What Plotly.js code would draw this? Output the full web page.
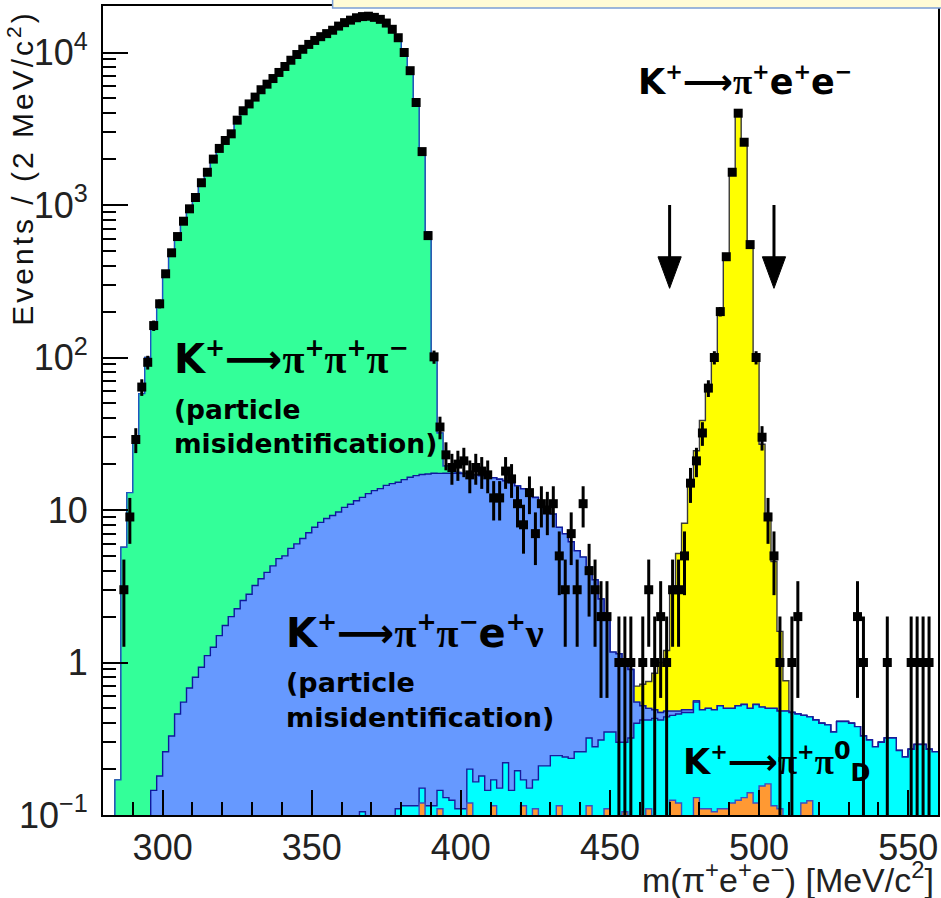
<!DOCTYPE html>
<html><head><meta charset="utf-8">
<script src="https://cdn.plot.ly/plotly-3.0.1.min.js"></script>
<style>html,body{margin:0;padding:0;background:#fff}</style>
</head><body><div id="chart" style="width:941px;height:898px"></div>
<script>
// ---- histogram binning: 2 MeV/c^2 bins from 280 to 560 ----
const binLow = 280, binWidth = 2, nBins = 140;

// ---- observed data (events per bin), bins centred 281, 283, ... 559 ----
const dataCounts = [
  0,0,0,3,9,29,64,93,162,225,
  354,486,621,783,944,1120,1400,1640,2000,2350,
  2650,2930,3600,4150,4600,5100,5700,6200,6750,7400,
  8100,8900,9700,10500,11300,12000,12700,13300,14000,14900,
  15700,16300,16900,17200,17300,17000,16500,15600,14200,12500,
  10000,7600,4700,2240,630,101,35,23,19,20,
  21,17,19,18,17,12,12,18,16,11,
  8,13,7,11,10,11,5,3,7,3,
  11,4,3,2,2,0,1,1,1,0,
  1,3,1,2,1,3,3,5,15,21,
  32,63,100,200,458,1640,4000,2580,550,100,
  30,9,5,1,0,1,2,0,0,0,
  0,0,0,0,0,0,2,1,0,0,
  0,1,0,0,0,1,1,1,1,0
];

// ---- simulated components (stacked) ----
const mcOrange = [
  0,0,0,0,0,0,0,0,0,0,
  0,0,0,0,0,0,0,0,0,0,
  0,0,0,0,0,0,0,0,0,0,
  0,0,0,0,0,0,0,0,0,0,
  0,0,0,0,0,0,0,0,0,0,
  0,0,0,0.12,0,0,0.11,0,0,0,
  0,0.12,0,0,0,0.115,0,0,0,0,
  0.115,0,0.11,0,0,0,0.115,0,0,0,
  0,0.115,0,0,0.11,0,0,0.105,0,0,
  0,0.11,0,0,0,0.125,0.12,0,0,0.13,
  0.11,0.11,0.105,0.11,0.11,0.12,0.125,0.13,0.14,0.12,
  0.155,0.16,0.115,0.11,0,0,0,0.12,0.124,0,
  0,0,0,0,0,0,0,0,0,0,
  0,0,0,0,0,0,0,0,0,0
];
const mcCyan = [
  0,0,0,0,0,0,0,0,0,0,
  0,0,0,0,0,0,0,0,0,0,
  0,0,0,0,0,0,0,0,0,0,
  0,0,0,0,0,0,0,0,0,0,
  0,0,0,0.105,0,0,0,0,0,0.11,
  0.115,0.115,0.115,0.03,0.115,0.115,0.035,0.13,0.125,0.11,
  0.11,0.08,0.165,0.18,0.145,0.055,0.15,0.22,0.145,0.195,
  0.055,0.15,0.06,0.21,0.21,0.245,0.13,0.24,0.235,0.26,
  0.26,0.205,0.28,0.31,0.24,0.35,0.3,0.195,0.32,0.4,
  0.42,0.31,0.43,0.42,0.44,0.325,0.34,0.47,0.47,0.42,
  0.38,0.39,0.385,0.41,0.39,0.38,0.395,0.4,0.36,0.41,
  0.355,0.34,0.385,0.37,0.48,0.47,0.46,0.33,0.316,0.42,
  0.4,0.39,0.35,0.41,0.41,0.4,0.38,0.33,0.31,0.28,
  0.3,0.32,0.32,0.265,0.24,0.27,0.29,0.29,0.27,0.26
];
const mcBlue = [
  0,0,0,0,0,0,0,0,0.145,0.18,
  0.26,0.33,0.46,0.55,0.68,0.80,0.93,1.11,1.26,1.5,
  1.75,2.0,2.25,2.55,2.8,3.2,3.54,3.9,4.3,4.8,
  5.0,5.6,6.0,6.5,7.1,7.7,8.3,8.8,9.2,9.7,
  10.4,10.9,11.5,12.0,12.8,13.4,13.8,14.5,14.9,15.1,
  15.7,16.3,16.7,16.95,17.1,17.3,17.25,17.3,17.3,17.3,
  17.2,17.0,16.8,16.6,16.45,16.1,15.75,15.3,14.95,14.2,
  13.6,12.85,11.9,11.0,10.1,9.15,7.45,6.75,5.95,5.15,
  4.65,3.9,3.2,2.3,1.55,0.82,0.84,0.7,0.58,0.15,
  0.1,0.08,0.06,0.05,0.04,0.03,0.02,0.02,0.02,0.01,
  0,0,0,0,0,0,0,0,0,0,
  0,0,0,0,0,0,0,0,0,0,
  0,0,0,0,0,0,0,0,0,0,
  0,0,0,0,0,0,0,0,0,0
];
const mcGreen = [
  0,0,0.17,5.7,13,30,58,100,160,235,
  350,480,620,790,950,1130,1400,1650,2000,2350,
  2650,3000,3550,4100,4600,5100,5650,6200,6750,7350,
  8050,8850,9650,10450,11250,12000,12700,13400,14100,14900,
  15600,16300,16800,17100,17200,17000,16500,15600,14200,12400,
  10100,7500,4800,2300,650,88,14.6,2,0.5,0.2,
  0.1,0,0,0,0,0,0,0,0,0,
  0,0,0,0,0,0,0,0,0,0,
  0,0,0,0,0,0,0,0,0,0,
  0,0,0,0,0,0,0,0,0,0,
  0,0,0,0,0,0,0,0,0,0,
  0,0,0,0,0,0,0,0,0,0,
  0,0,0,0,0,0,0,0,0,0,
  0,0,0,0,0,0,0,0,0,0
];
const mcYellow = [
  0,0,0,0,0,0,0,0,0,0,
  0,0,0,0,0,0,0,0,0,0,
  0,0,0,0,0,0,0,0,0,0,
  0,0,0,0,0,0,0,0,0,0,
  0,0,0,0,0,0,0,0,0,0,
  0,0,0,0,0,0,0,0,0,0,
  0,0,0,0,0,0,0,0,0,0,
  0,0,0,0,0,0,0,0,0,0,
  0,0,0,0,0,0,0,0,0,0.15,
  0.2,0.25,0.36,0.53,0.72,2.5,4.7,7.7,14.4,23.9,
  38.1,64.5,104.5,202.5,454.5,1640,3960,2720,542,99.5,
  26.5,9,4.1,1.12,0.28,0,0,0,0,0,
  0,0,0,0,0,0,0,0,0,0,
  0,0,0,0,0,0,0,0,0,0
];

// signal-region cut values (arrows)
const cutValues = [470, 505];

// axis ticks
const xTickVals = [300, 350, 400, 450, 500, 550];
const xTickText = ['300', '350', '400', '450', '500', '550'];
const xMinorVals = [290,310,320,330,340,360,370,380,390,410,420,430,440,460,470,480,490,510,520,530,540];
const yTickVals = [0.1, 1, 10, 100, 1000, 10000];
const yTickText = ['10<sup>\u22121</sup>', '1', '10', '10<sup>2</sup>', '10<sup>3</sup>', '10<sup>4</sup>'];
const yMinorVals = [0.2,0.3,0.4,0.5,0.6,0.7,0.8,0.9, 2,3,4,5,6,7,8,9, 20,30,40,50,60,70,80,90,
  200,300,400,500,600,700,800,900, 2000,3000,4000,5000,6000,7000,8000,9000, 20000];

// ---- build traces ----
const edges = Array.from({length: nBins + 1}, (_, i) => binLow + i * binWidth);
const centers = Array.from({length: nBins}, (_, i) => binLow + (i + 0.5) * binWidth);

const components = [mcOrange, mcCyan, mcBlue, mcGreen, mcYellow];
const styles = [
  {fill: '#ff9933', line: '#3a4fc4'},
  {fill: '#00ffff', line: '#1a1a9c'},
  {fill: '#6699ff', line: '#10189c'},
  {fill: '#33ff99', line: '#1c54c8'},
  {fill: '#ffff00', line: '#3a3a3a'}
];
const cumul = [];
let running = new Array(nBins).fill(0);
components.forEach(arr => { running = running.map((v, i) => v + arr[i]); cumul.push(running.slice()); });

const traces = [];
for (let k = components.length - 1; k >= 0; k--) {
  const yv = cumul[k].map(v => (v > 0 ? v : 1e-3));
  yv.push(yv[yv.length - 1]);
  traces.push({
    type: 'scatter', mode: 'lines', x: edges, y: yv,
    line: {shape: 'hv', color: styles[k].line, width: 1.4},
    fill: 'tozeroy', fillcolor: styles[k].fill, hoverinfo: 'skip'
  });
}

const dx = [], dy = [], de = [];
dataCounts.forEach((n, i) => { if (n > 0) { dx.push(centers[i]); dy.push(n); de.push(Math.sqrt(n)); } });
traces.push({
  type: 'scatter', mode: 'markers', x: dx, y: dy,
  marker: {symbol: 'square', size: 9, color: 'black'},
  error_y: {type: 'data', array: de, visible: true, color: 'black', thickness: 3, width: 0},
  error_x: {type: 'constant', value: binWidth / 2, visible: true, color: 'black', thickness: 3, width: 0}
});

// ---- decorations ----
const shapes = [
  {type: 'rect', xref: 'paper', yref: 'paper', x0: 0.275, x1: 1.01, y0: 0.9975, y1: 1.02,
   fillcolor: '#fffbd6', line: {color: '#7b9fd6', width: 1.5}, layer: 'above'}
];
cutValues.forEach(xc => {
  shapes.push({type: 'line', xref: 'x', yref: 'paper', x0: xc, x1: xc, y0: 0.754, y1: 0.685,
    line: {color: 'black', width: 3}, layer: 'above'});
  shapes.push({type: 'path', xref: 'x', yref: 'paper',
    path: 'M ' + (xc - 3.9) + ',0.69 L ' + (xc + 3.9) + ',0.69 L ' + xc + ',0.651 Z',
    fillcolor: 'black', line: {color: 'black', width: 1}, layer: 'above'});
});

const PI = '<span style="font-family:Liberation Serif">\u03c0</span>';
const NU = '<span style="font-family:Liberation Serif">\u03bd</span>';
const ARR = '\u27f6';
function sup(t, px) { return '<sup><span style="font-size:' + px + 'px">' + t + '</span></sup>'; }
function sub(t, px) { return '<sub><span style="font-size:' + px + 'px">' + t + '</span></sub>'; }
const labFont = {family: 'DejaVu Sans', size: 40, color: 'black', weight: 'bold'};
const subFont = {family: 'DejaVu Sans', size: 27, color: 'black', weight: 'bold'};
const S = 24;

const annotations = [
  {xref: 'paper', yref: 'paper', x: 0.083, y: 0.565, xanchor: 'left', yanchor: 'middle', showarrow: false,
   text: 'K' + sup('+', S) + ARR + PI + sup('+', S) + PI + sup('+', S) + PI + sup('\u2212', S), font: labFont},
  {xref: 'paper', yref: 'paper', x: 0.083, y: 0.523, xanchor: 'left', yanchor: 'top', showarrow: false, align: 'left',
   text: '(particle<br>misidentification)', font: Object.assign({}, subFont, {size: 26.5})},
  {xref: 'paper', yref: 'paper', x: 0.638, y: 0.907, xanchor: 'left', yanchor: 'middle', showarrow: false,
   text: 'K' + sup('+', 21) + ARR + PI + sup('+', 21) + 'e' + sup('+', 21) + 'e' + sup('\u2212', 21), font: Object.assign({}, labFont, {size: 35})},
  {xref: 'paper', yref: 'paper', x: 0.217, y: 0.226, xanchor: 'left', yanchor: 'middle', showarrow: false,
   text: 'K' + sup('+', S) + ARR + PI + sup('+', S) + PI + sup('\u2212', S) + 'e' + sup('+', S) + NU, font: labFont},
  {xref: 'paper', yref: 'paper', x: 0.217, y: 0.185, xanchor: 'left', yanchor: 'top', showarrow: false, align: 'left',
   text: '(particle<br>misidentification)', font: subFont},
  {xref: 'paper', yref: 'paper', x: 0.692, y: 0.0655, xanchor: 'left', yanchor: 'middle', showarrow: false,
   text: 'K' + sup('+', 21) + ARR + PI + sup('+', 21) + PI + sup('0', 24) + sub('D', 24),
   font: Object.assign({}, labFont, {size: 35})},
  {xref: 'paper', yref: 'paper', x: -0.0985, y: 0.997, xanchor: 'center', yanchor: 'top', showarrow: false, textangle: -90,
   text: '<span style="letter-spacing:3px">Events / (2 MeV/c<sup>2</sup>)</span>', font: {family: 'Liberation Sans, Arial', size: 30, color: '#111'}},
  {xref: 'paper', yref: 'paper', x: 0.998, y: -0.1065, xanchor: 'right', yanchor: 'bottom', showarrow: false,
   text: 'm(' + '\u03c0<sup>+</sup>e<sup>+</sup>e<sup>\u2212</sup>) [MeV/c<sup>2</sup>]', font: {family: 'Liberation Sans, Arial', size: 34, color: '#222'}}
];

const tickFont = {family: 'Liberation Sans, Arial', size: 36, color: '#222'};
const layout = {
  width: 941, height: 898,
  margin: {l: 103, r: 3, t: 6, b: 83},
  paper_bgcolor: 'white', plot_bgcolor: 'white', showlegend: false,
  xaxis: {
    range: [280, 560], tickmode: 'array', tickvals: xTickVals, ticktext: xTickText,
    ticks: 'inside', ticklen: 25, tickwidth: 2, tickcolor: 'black',
    showline: true, linecolor: 'black', linewidth: 2, mirror: true,
    showgrid: false, zeroline: false, tickfont: tickFont, ticklabelstandoff: 0,
    minor: {tickmode: 'array', tickvals: xMinorVals, ticks: 'inside', ticklen: 13, tickwidth: 2, tickcolor: 'black', showgrid: false}
  },
  yaxis: {
    type: 'log', range: [-1, 4.305], tickmode: 'array', tickvals: yTickVals, ticktext: yTickText,
    ticks: 'inside', ticklen: 25, tickwidth: 2, tickcolor: 'black',
    showline: true, linecolor: 'black', linewidth: 2, mirror: true,
    showgrid: false, zeroline: false, tickfont: tickFont, ticklabelstandoff: 6,
    minor: {tickmode: 'array', tickvals: yMinorVals, ticks: 'inside', ticklen: 13, tickwidth: 2, tickcolor: 'black', showgrid: false}
  },
  shapes: shapes,
  annotations: annotations
};

Plotly.newPlot('chart', traces, layout, {displayModeBar: false, staticPlot: true});
</script>
</body></html>
